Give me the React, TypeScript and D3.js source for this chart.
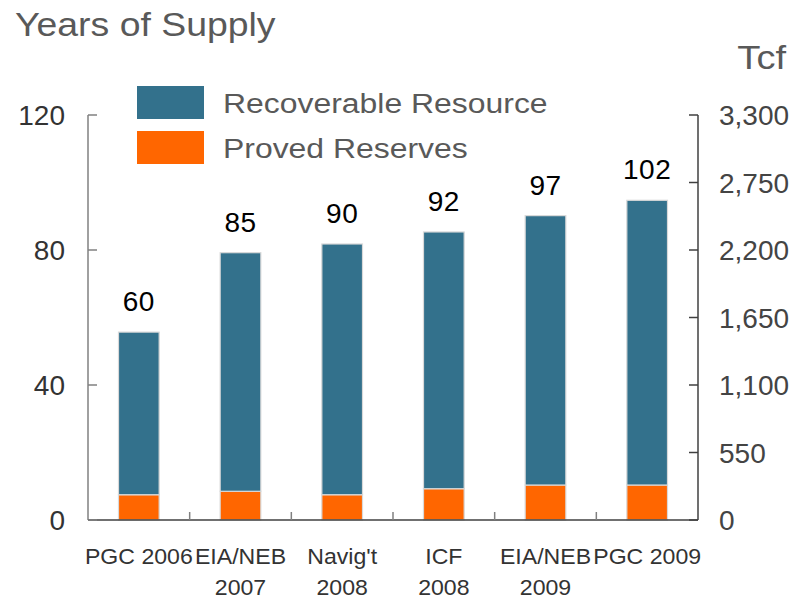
import React from "react";
import * as d3 from "d3";

const categories = ["PGC 2006", "EIA/NEB\n2007", "Navig't\n2008", "ICF\n2008", "EIA/NEB\n2009", "PGC 2009"];
const provedReserves = [206, 234, 206, 255, 285, 285]; // Tcf
const recoverableResource = [1325, 1944, 2043, 2092, 2195, 2320]; // Tcf (on top of proved)
const yearsOfSupply = ["60", "85", "90", "92", "97", "102"];
const leftTicks = [0, 40, 80, 120];
const rightTicks = [0, 550, 1100, 1650, 2200, 2750, 3300];
const seriesNames = ["Recoverable Resource", "Proved Reserves"];
const colors = { recoverable: "#33718c", proved: "#ff6600" };

const W = 795, H = 599;
const M = { left: 88, right: 698, top: 115, bottom: 520 };
const FONT = "Arial, 'Liberation Sans', Helvetica, sans-serif";

export default function App() {
  const x = d3.scaleBand<string>().domain(categories).range([M.left, M.right]).paddingInner(0.6).paddingOuter(0.3);
  const xCat = d3.scaleBand<string>().domain(categories).range([M.left, M.right]);
  const yL = d3.scaleLinear().domain([0, 120]).range([M.bottom, M.top]);
  const yR = d3.scaleLinear().domain([0, 3300]).range([M.bottom, M.top]);
  const fmt = d3.format(",");
  const stackData = categories.map((c, i) => ({ cat: c, proved: provedReserves[i], recoverable: recoverableResource[i] }));
  const stack = d3.stack<any>().keys(["proved", "recoverable"])(stackData);

  return (
    <svg width={W} height={H} style={{ position: "absolute", left: 0, top: 0, background: "#fff" }} fontFamily={FONT}>
      <text transform="translate(15,36) scale(1.1,1)" fontSize={34} fill="#595959">Years of Supply</text>
      <text transform="translate(786,69) scale(1.12,1)" fontSize={34} fill="#595959" textAnchor="end">Tcf</text>

      {/* bars */}
      {stack.map((layer) => (
        <g key={layer.key}>
          {layer.map((d, i) => (
            <rect
              key={i}
              x={x(categories[i])!}
              width={x.bandwidth()}
              y={yR(d[1])}
              height={yR(d[0]) - yR(d[1])}
              fill={layer.key === "proved" ? colors.proved : colors.recoverable}
              stroke="#d9d9d9"
              strokeWidth={1.2}
            />
          ))}
        </g>
      ))}

      {/* value labels */}
      {stackData.map((d, i) => (
        <text key={i} x={x(d.cat)! + x.bandwidth() / 2} y={yR(d.proved + d.recoverable) - 21} fontSize={28} textAnchor="middle" fill="#000" letterSpacing={0.5}>
          {yearsOfSupply[i]}
        </text>
      ))}

      {/* axes */}
      <line x1={M.left} x2={M.left} y1={M.top} y2={M.bottom} stroke="#808080" strokeWidth={1.5} />
      <line x1={M.right} x2={M.right} y1={M.top} y2={M.bottom} stroke="#404040" strokeWidth={1.5} />
      <line x1={M.left} x2={M.right} y1={M.bottom} y2={M.bottom} stroke="#404040" strokeWidth={1.5} />
      {leftTicks.map((t) => (
        <g key={t}>
          <line x1={M.left} x2={M.left + 9} y1={yL(t)} y2={yL(t)} stroke="#808080" strokeWidth={1.5} />
          <text x={65} y={yL(t)} dy="0.36em" fontSize={28} textAnchor="end" fill="#333">{t}</text>
        </g>
      ))}
      {rightTicks.map((t) => (
        <g key={t}>
          <line x1={M.right - 9} x2={M.right} y1={yR(t)} y2={yR(t)} stroke="#404040" strokeWidth={1.5} />
          <text x={719} y={yR(t)} dy="0.36em" fontSize={28} textAnchor="start" fill="#444">{fmt(t)}</text>
        </g>
      ))}
      {categories.slice(1).map((c) => (
        <line key={c} x1={xCat(c)!} x2={xCat(c)!} y1={M.bottom} y2={M.bottom - 8} stroke="#808080" strokeWidth={1.5} />
      ))}
      {categories.map((c) => {
        const cx = xCat(c)! + xCat.bandwidth() / 2;
        return (
          <text key={c} transform={`translate(${cx},564) scale(1.05,1)`} fontSize={22} textAnchor="middle" fill="#333">
            {c.split("\n").map((line, j) => (
              <tspan key={j} x={0} dy={j === 0 ? 0 : 31}>{line}</tspan>
            ))}
          </text>
        );
      })}

      {/* legend */}
      {seriesNames.map((s, i) => (
        <g key={s} transform={`translate(137, ${86 + i * 45})`}>
          <rect width={67} height={33} fill={i === 0 ? colors.recoverable : colors.proved} />
          <text transform="translate(86,16.5) scale(1.14,1)" dy="0.36em" fontSize={28} fill="#595959">{s}</text>
        </g>
      ))}
    </svg>
  );
}
